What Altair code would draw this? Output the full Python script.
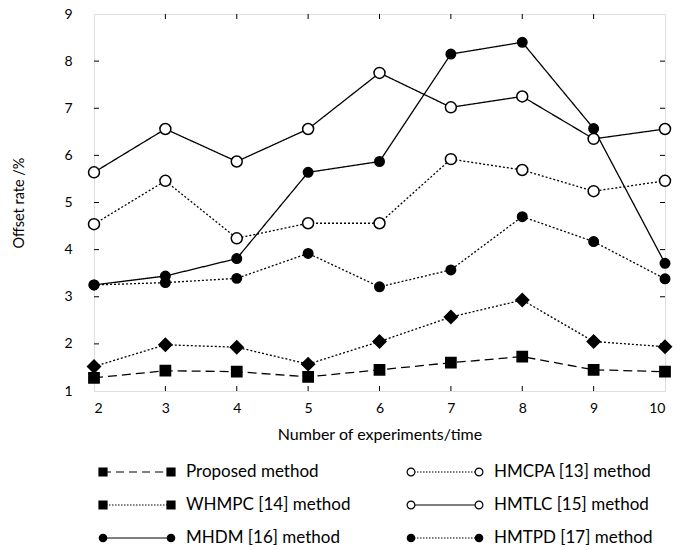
import altair as alt
import pandas as pd

# ---------------- data ----------------
experiments = [2, 3, 4, 5, 6, 7, 8, 9, 10]
series_names = [
    "Proposed method",
    "WHMPC [14] method",
    "MHDM [16] method",
    "HMCPA [13] method",
    "HMTLC [15] method",
    "HMTPD [17] method",
]
proposed = [1.28, 1.43, 1.41, 1.30, 1.45, 1.60, 1.73, 1.45, 1.41]
whmpc = [1.52, 1.98, 1.93, 1.57, 2.05, 2.57, 2.93, 2.05, 1.94]
mhdm = [3.25, 3.44, 3.81, 5.64, 5.87, 8.15, 8.40, 6.57, 3.71]
hmcpa = [4.54, 5.46, 4.24, 4.56, 4.56, 5.92, 5.69, 5.24, 5.46]
hmtlc = [5.64, 6.56, 5.87, 6.56, 7.75, 7.02, 7.25, 6.35, 6.56]
hmtpd = [3.25, 3.30, 3.39, 3.92, 3.21, 3.57, 4.70, 4.17, 3.38]
x_ticks = [2, 3, 4, 5, 6, 7, 8, 9, 10]
y_ticks = [1, 2, 3, 4, 5, 6, 7, 8, 9]

# legend layout (column / row of each entry)
legend_col = [0, 0, 0, 1, 1, 1]
legend_row = [0, 1, 2, 0, 1, 2]

all_values = [proposed, whmpc, mhdm, hmcpa, hmtlc, hmtpd]
rows = []
for name, vals in zip(series_names, all_values):
    for e, v in zip(experiments, vals):
        rows.append({"series": name, "exp": e, "val": v})
df = pd.DataFrame(rows)

# ---------------- styles ----------------
FONT = "Lato"
W, H = 571, 377
dash_range = [[9, 5], [2, 2], [1, 0], [2, 2], [1, 0], [2, 2]]
shape_range = ["square", "diamond", "circle", "circle", "circle", "circle"]
fill_range = ["black", "black", "black", "white", "white", "black"]
size_range = [105, 165, 90, 120, 120, 90]
legend_shape_range = ["square", "square", "circle", "circle", "circle", "circle"]
legend_size_range = [64, 64, 55, 60, 60, 55]
legend_dash_range = [[8, 5], [1.5, 1.5], [1, 0], [1.5, 1.5], [1, 0], [1.5, 1.5]]

dom = series_names

x_axis = alt.Axis(values=x_ticks, title="Number of experiments/time", ticks=False,
                  domain=False, grid=False, labelPadding=10, titlePadding=11,
                  labelFontSize=14, titleFontSize=16, format="d", labelFont=FONT,
                  titleFont=FONT, titleFontWeight="normal", labelColor="black",
                  titleColor="black")
y_axis = alt.Axis(values=y_ticks, title="Offset rate /%", ticks=False,
                  domain=False, grid=False, labelPadding=22, titlePadding=37,
                  labelFontSize=14, titleFontSize=14.5, format="d", labelFont=FONT,
                  titleFont=FONT, titleFontWeight="normal", labelColor="black",
                  titleColor="black")
xs = alt.Scale(domain=[2, 10], nice=False)
ys = alt.Scale(domain=[1, 9], nice=False)

xe = alt.X("exp:Q", scale=xs, axis=x_axis)
ye = alt.Y("val:Q", scale=ys, axis=y_axis)

lines = alt.Chart(df).mark_line(color="black", strokeWidth=1.3).encode(
    x=xe, y=ye,
    strokeDash=alt.StrokeDash("series:N", scale=alt.Scale(domain=dom, range=dash_range), legend=None),
    detail="series:N",
)
points = alt.Chart(df).mark_point(filled=True, stroke="black", strokeWidth=1.5, opacity=1).encode(
    x=xe, y=ye,
    shape=alt.Shape("series:N", scale=alt.Scale(domain=dom, range=shape_range), legend=None),
    fill=alt.Fill("series:N", scale=alt.Scale(domain=dom, range=fill_range), legend=None),
    size=alt.Size("series:N", scale=alt.Scale(type="ordinal", domain=dom, range=size_range), legend=None),
)

yt = pd.DataFrame({"val": y_ticks[1:-1]})
xt = pd.DataFrame({"exp": x_ticks[1:-1]})
tick_left = alt.Chart(yt).mark_rule(color="black", strokeWidth=1).encode(
    y=ye, x=alt.value(0), x2=alt.value(5))
tick_right = alt.Chart(yt).mark_rule(color="black", strokeWidth=1).encode(
    y=ye, x=alt.value(W - 5), x2=alt.value(W))
tick_bottom = alt.Chart(xt).mark_rule(color="black", strokeWidth=1).encode(
    x=xe, y=alt.value(H - 5), y2=alt.value(H))
tick_top = alt.Chart(xt).mark_rule(color="black", strokeWidth=1).encode(
    x=xe, y=alt.value(0), y2=alt.value(5))

main = alt.layer(tick_left, tick_right, tick_bottom, tick_top, lines, points).properties(
    width=W, height=H)

# ---------------- legend panel ----------------
ldf = pd.DataFrame({"series": series_names, "col": legend_col, "row": legend_row})
lx = alt.Scale(domain=[0, 1], range=[9, 317])
ly = alt.Scale(domain=[0, 2], range=[0, 66])
lxe = alt.X("col:Q", scale=lx, axis=None)
lye = alt.Y("row:Q", scale=ly, axis=None)
SEG = 68

leg_line = alt.Chart(ldf).mark_rule(color="black", strokeWidth=1.2, x2Offset=SEG).encode(
    x=lxe, x2="col:Q", y=lye,
    strokeDash=alt.StrokeDash("series:N", scale=alt.Scale(domain=dom, range=legend_dash_range), legend=None),
)
leg_pt_enc = dict(
    x=lxe, y=lye,
    shape=alt.Shape("series:N", scale=alt.Scale(domain=dom, range=legend_shape_range), legend=None),
    fill=alt.Fill("series:N", scale=alt.Scale(domain=dom, range=fill_range), legend=None),
    size=alt.Size("series:N", scale=alt.Scale(type="ordinal", domain=dom, range=legend_size_range), legend=None),
)
leg_pt_l = alt.Chart(ldf).mark_point(filled=True, stroke="black", strokeWidth=1.2, opacity=1).encode(**leg_pt_enc)
leg_pt_r = alt.Chart(ldf).mark_point(filled=True, stroke="black", strokeWidth=1.2, opacity=1,
                                     xOffset=SEG).encode(**leg_pt_enc)
leg_text = alt.Chart(ldf).mark_text(align="left", baseline="middle", dx=83, fontSize=17,
                                    font=FONT, color="black").encode(x=lxe, y=lye, text="series:N")

legend = alt.layer(leg_line, leg_pt_l, leg_pt_r, leg_text).properties(
    width=W, height=66, view=alt.ViewBackground(stroke="transparent"))

chart = alt.vconcat(main, legend, spacing=19).resolve_scale(
    x="independent", y="independent", strokeDash="independent", shape="independent",
    fill="independent", size="independent"
).properties(
    padding={"left": 11, "top": 6, "right": 5, "bottom": 5},
    background="white",
).configure_view(stroke="black", strokeWidth=1.5).configure(font=FONT)

chart.save("out.html", embed_options={"renderer": "svg", "actions": False})
